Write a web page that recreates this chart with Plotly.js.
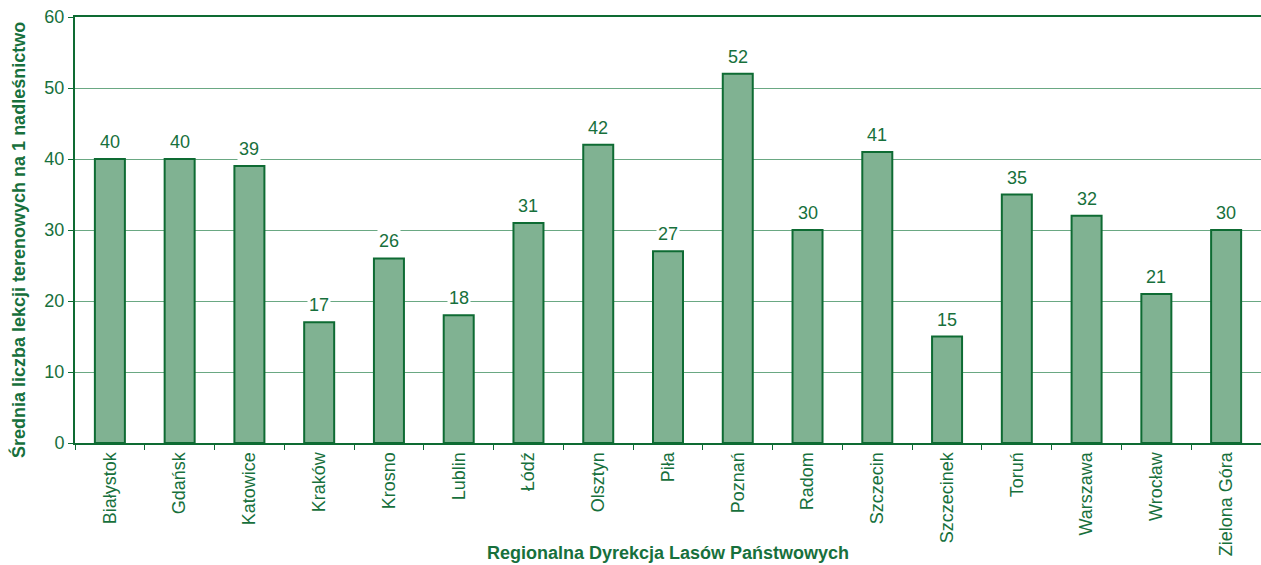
<!DOCTYPE html>
<html>
<head>
<meta charset="utf-8">
<script src="https://cdn.plot.ly/plotly-3.0.1.min.js"></script>
<style>html,body{margin:0;padding:0;background:#fff;}#chart{width:1261px;height:565px;}</style>
</head>
<body>
<div id="chart"></div>
<script>
const categories = ["Białystok","Gdańsk","Katowice","Kraków","Krosno","Lublin","Łódź","Olsztyn","Piła","Poznań","Radom","Szczecin","Szczecinek","Toruń","Warszawa","Wrocław","Zielona Góra"];
const values = [40,40,39,17,26,18,31,42,27,52,30,41,15,35,32,21,30];
const yTicks = [0,10,20,30,40,50,60];
const yTitle = "Średnia liczba lekcji terenowych na 1 nadleśnictwo";
const xTitle = "Regionalna Dyrekcja Lasów Państwowych";

const textColor = "#17703c";
const darkGreen = "#0e6b33";
const fam = "Liberation Sans, Arial, sans-serif";

const trace = {
  type: "bar",
  x: categories,
  y: values,
  marker: {color: "#80b292", line: {color: darkGreen, width: 2}},
  hoverinfo: "x+y"
};

const annotations = categories.map((c, i) => ({
  x: c, y: values[i], xref: "x", yref: "y",
  text: String(values[i]), showarrow: false,
  yanchor: "bottom", yshift: 5,
  bgcolor: "#ffffff", borderpad: 1,
  font: {family: fam, size: 18, color: textColor}
}));
annotations.push({
  xref: "paper", yref: "paper", x: 0.5, y: -(553 - 443) / 426,
  xanchor: "center", yanchor: "middle", showarrow: false,
  text: "<b>" + xTitle + "</b>",
  font: {family: fam, size: 18, color: textColor}
});
annotations.push({
  xref: "paper", yref: "paper", x: (18 - 75) / 1186, y: (443 - 240) / 426,
  xanchor: "center", yanchor: "middle", showarrow: false, textangle: -90,
  text: "<b>" + yTitle + "</b>",
  font: {family: fam, size: 18, color: textColor}
});

const layout = {
  width: 1261, height: 565,
  margin: {l: 75, r: 0, t: 17, b: 122},
  paper_bgcolor: "#ffffff", plot_bgcolor: "#ffffff",
  showlegend: false,
  bargap: 0.57,
  font: {family: fam, size: 18, color: textColor},
  xaxis: {
    type: "category",
    tickangle: -90,
    ticks: "outside", tickson: "boundaries", ticklen: 5, tickwidth: 1, tickcolor: darkGreen,
    showline: true, linecolor: darkGreen, linewidth: 2, mirror: true,
    showgrid: false, zeroline: false,
    tickfont: {family: fam, size: 18, color: textColor},
    automargin: false
  },
  yaxis: {
    range: [0, 60],
    tickvals: yTicks,
    ticktext: yTicks.map(String),
    ticks: "outside", ticklen: 5, tickwidth: 1, tickcolor: darkGreen,
    showline: true, linecolor: darkGreen, linewidth: 2,
    showgrid: true, gridcolor: "#6aa883", gridwidth: 1,
    zeroline: false,
    tickfont: {family: fam, size: 18, color: textColor},
    automargin: false
  },
  annotations: annotations
};

Plotly.newPlot("chart", [trace], layout, {displayModeBar: false, staticPlot: true});
</script>
</body>
</html>
